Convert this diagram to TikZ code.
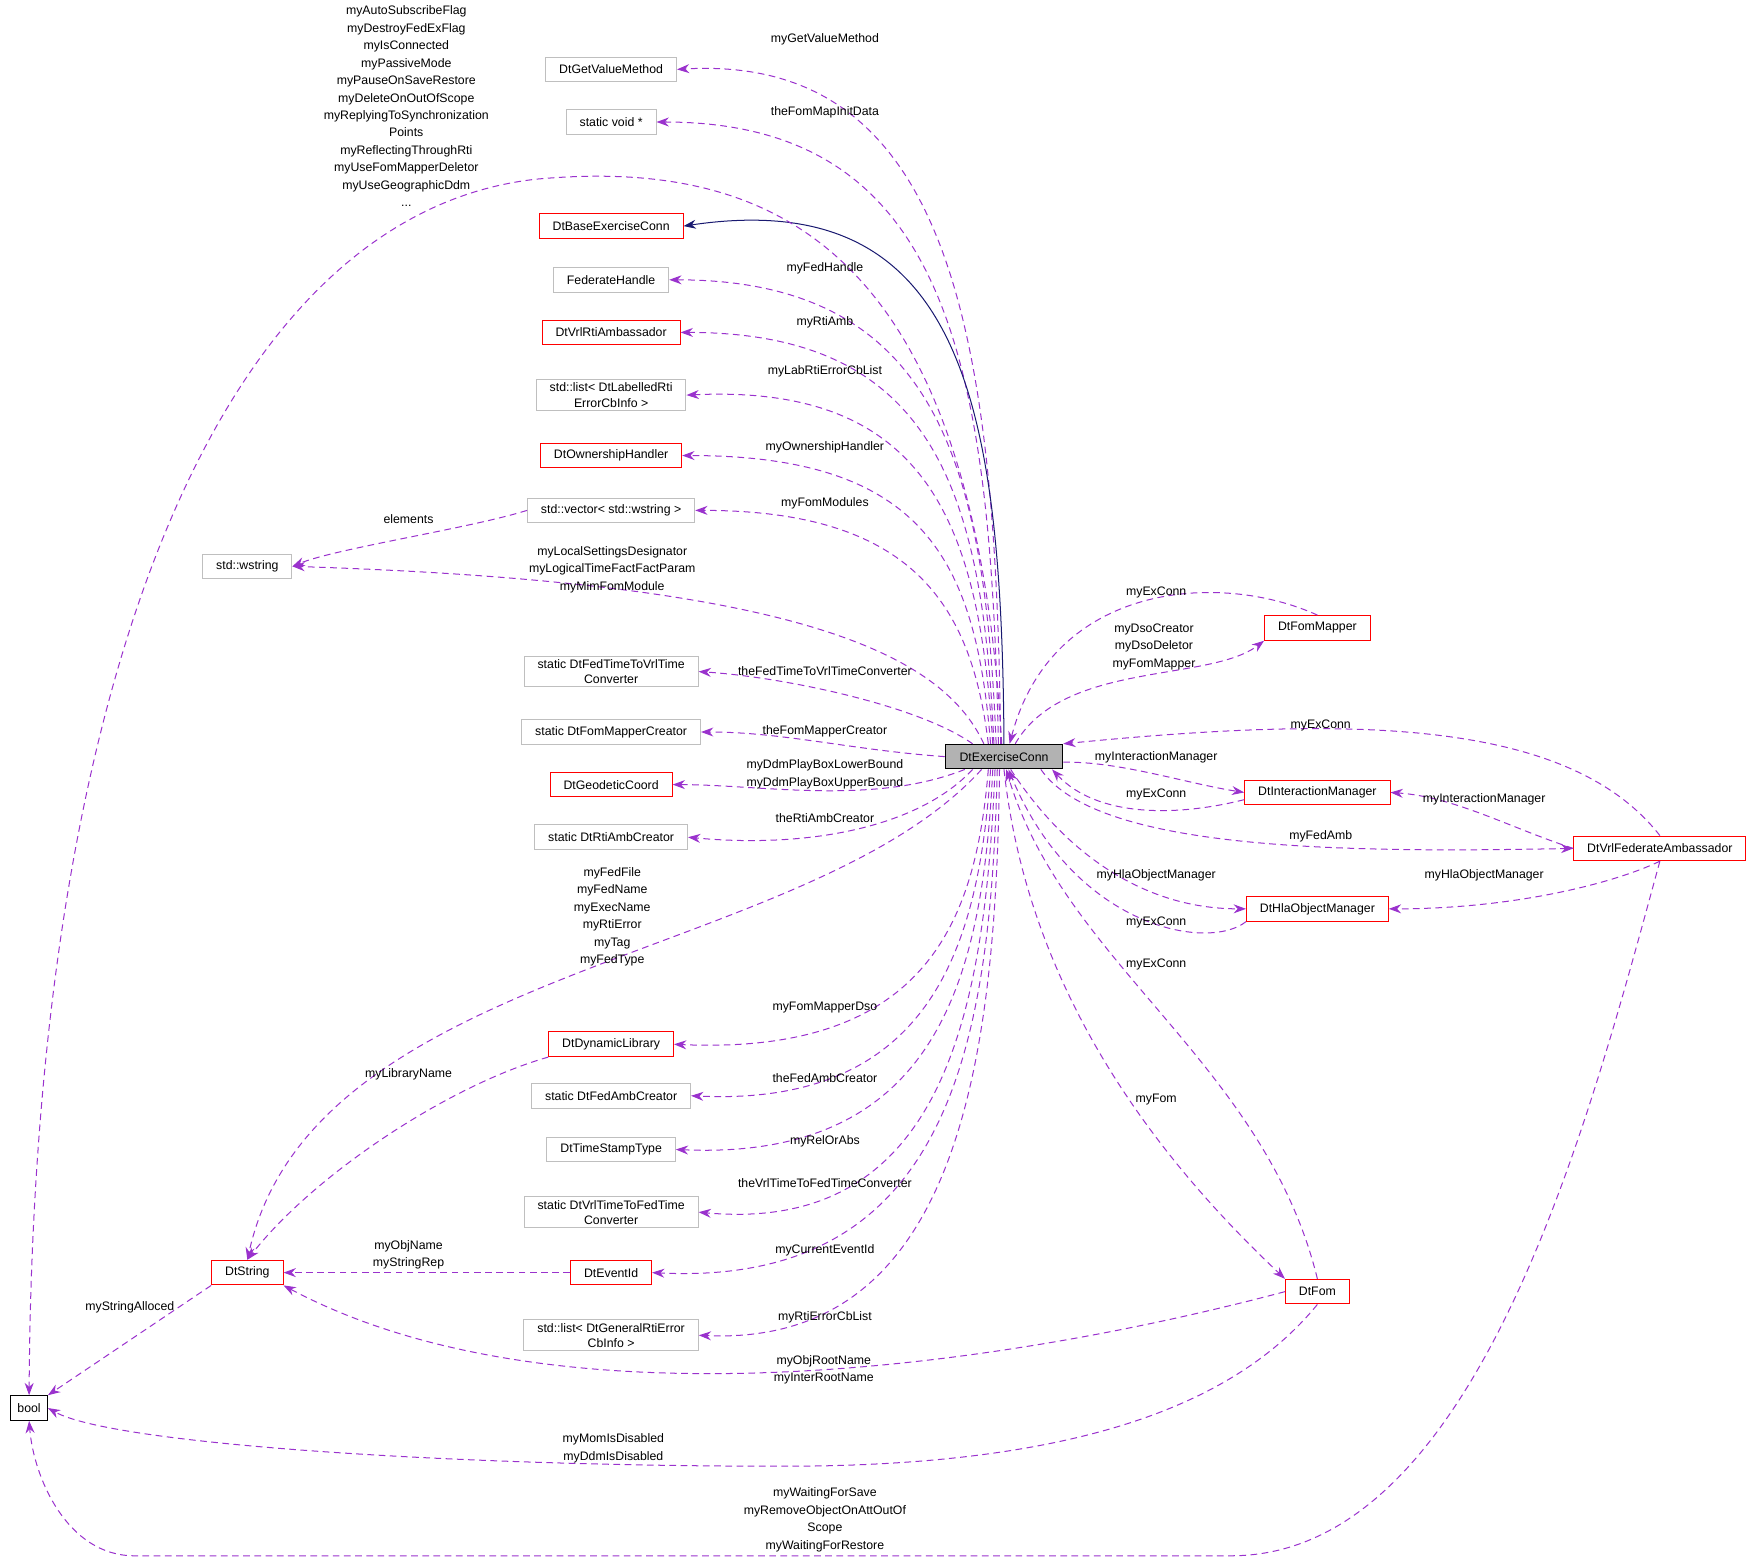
\documentclass[tikz,border=0pt]{standalone}
\usepackage{fontspec}
\setmainfont{Liberation Sans}
\usetikzlibrary{arrows.meta}
\definecolor{dep}{HTML}{9A32CD}
\definecolor{inh}{HTML}{191970}
\definecolor{redbox}{HTML}{FF0000}
\definecolor{graybox}{HTML}{BFBFBF}
\tikzset{
  box/.style={draw, line width=0.9pt, inner xsep=12pt, inner ysep=3pt, minimum height=22pt, align=center, font=\fontsize{11}{13.5}\selectfont},
  red box/.style={box, draw=redbox},
  gray box/.style={box, draw=graybox},
  lbl/.style={align=center, inner sep=0pt, font=\fontsize{11}{15.6}\selectfont},
  uses/.style={draw=dep, line width=0.9pt, dash pattern=on 6pt off 4pt, -{Stealth[length=11pt,width=8pt]}},
  isa/.style={draw=inh, line width=0.9pt, -{Stealth[length=11pt,width=8pt]}}
}
\begin{document}
\begin{tikzpicture}[x=1pt,y=-1pt]
  \useasboundingbox (0,0) rectangle (1568,1396);
  % centre class
  \node[box, fill=gray!60, inner xsep=4pt, minimum width=105pt] (ex) at (897,676) {DtExerciseConn};
  % members on the left
  \node[gray box] (gv) at (546,62) {DtGetValueMethod};
  \node[gray box] (sv) at (546,109) {static void *};
  \node[red box] (base) at (546,202) {DtBaseExerciseConn};
  \node[gray box] (fh) at (546,250) {FederateHandle};
  \node[red box] (rti) at (546,297) {DtVrlRtiAmbassador};
  \node[gray box] (lab) at (546,353) {std::list\textless{} DtLabelledRti\\ErrorCbInfo \textgreater{}};
  \node[red box] (own) at (546,407) {DtOwnershipHandler};
  \node[gray box] (vec) at (546,456) {std::vector\textless{} std::wstring \textgreater{}};
  \node[gray box] (ws) at (221,506) {std::wstring};
  \node[gray box] (f2v) at (546,600) {static DtFedTimeToVrlTime\\Converter};
  \node[gray box] (fmc) at (546,654) {static DtFomMapperCreator};
  \node[red box] (geo) at (546,701) {DtGeodeticCoord};
  \node[gray box] (rac) at (546,748) {static DtRtiAmbCreator};
  \node[red box] (dyn) at (546,933) {DtDynamicLibrary};
  \node[gray box] (fac) at (546,979) {static DtFedAmbCreator};
  \node[gray box] (tst) at (546,1027) {DtTimeStampType};
  \node[gray box] (v2f) at (546,1083) {static DtVrlTimeToFedTime\\Converter};
  \node[red box] (evt) at (546,1137) {DtEventId};
  \node[gray box] (gen) at (546,1193) {std::list\textless{} DtGeneralRtiError\\CbInfo \textgreater{}};
  \node[red box] (str) at (221,1137) {DtString};
  \node[box, inner xsep=6pt] (bool) at (26,1258) {bool};
  % classes on the right
  \node[red box] (fm) at (1177,561) {DtFomMapper};
  \node[red box] (im) at (1177,708) {DtInteractionManager};
  \node[red box] (hla) at (1177,812) {DtHlaObjectManager};
  \node[red box] (fom) at (1177,1154) {DtFom};
  \node[red box] (amb) at (1483,758) {DtVrlFederateAmbassador};

  % edges to the upper members
  \draw[uses] ([xshift=-3pt]ex.north) .. controls (890,300) and (850,48) .. (gv.east);
  \draw[uses] ([xshift=-5pt]ex.north) .. controls (885,330) and (850,109) .. (sv.east);
  \draw[isa] (ex.north) .. controls (895,360) and (860,165) .. (base.east);
  \draw[uses] ([xshift=-7pt]ex.north) .. controls (880,420) and (840,250) .. (fh.east);
  \draw[uses] ([xshift=-9pt]ex.north) .. controls (878,440) and (835,297) .. (rti.east);
  \draw[uses] ([xshift=-10pt]ex.north) .. controls (875,470) and (830,343) .. (lab.east);
  \draw[uses] ([xshift=-12pt]ex.north) .. controls (872,500) and (825,407) .. (own.east);
  \draw[uses] ([xshift=-14pt]ex.north) .. controls (868,540) and (815,456) .. (vec.east);
  \draw[uses] (vec.west) .. controls (420,472) and (300,490) .. (ws.east);
  \draw[uses] ([xshift=-18pt]ex.north) .. controls (840,580) and (700,520) .. (ws.east);
  \draw[uses] ([xshift=-28pt]ex.north) .. controls (820,630) and (700,605) .. (f2v.east);
  \draw[uses] (ex.west) .. controls (760,670) and (700,654) .. (fmc.east);
  \draw[uses] ([xshift=-35pt]ex.south) .. controls (780,720) and (680,701) .. (geo.east);
  \draw[uses] ([xshift=-28pt]ex.south) .. controls (820,740) and (720,758) .. (rac.east);
  \draw[uses] ([xshift=-2pt]ex.north) .. controls (870,230) and (700,140) .. (480,160) .. controls (200,190) and (30,600) .. (bool.north);
  % edges to the lower members
  \draw[uses] ([xshift=-20pt]ex.south) .. controls (720,860) and (280,860) .. (str.north);
  \draw[uses] ([xshift=-14pt]ex.south) .. controls (872,820) and (830,943) .. (dyn.east);
  \draw[uses] ([xshift=-12pt]ex.south) .. controls (875,840) and (835,989) .. (fac.east);
  \draw[uses] ([xshift=-10pt]ex.south) .. controls (878,870) and (840,1037) .. (tst.east);
  \draw[uses] ([xshift=-8pt]ex.south) .. controls (880,900) and (845,1103) .. (v2f.east);
  \draw[uses] ([xshift=-6pt]ex.south) .. controls (885,930) and (850,1150) .. (evt.east);
  \draw[uses] ([xshift=-4pt]ex.south) .. controls (890,950) and (855,1203) .. (gen.east);
  \draw[uses] (dyn.south west) .. controls (400,970) and (280,1050) .. (str.north);
  \draw[uses] (evt.west) -- (str.east);
  \draw[uses] (str.south west) -- (bool.north east);
  \draw[uses] (fom.west) .. controls (900,1220) and (500,1280) .. (str.south east);
  \draw[uses] (fom.south) .. controls (1100,1260) and (950,1310) .. (700,1310) .. controls (400,1310) and (100,1290) .. (bool.east);
  \draw[uses] (amb.south) .. controls (1420,1000) and (1320,1390) .. (1100,1390) -- (120,1390) .. controls (60,1390) and (30,1320) .. (bool.south);
  % edges on the right
  \draw[uses] (fm.north) .. controls (1090,510) and (940,520) .. ([xshift=5pt]ex.north);
  \draw[uses] ([xshift=10pt]ex.north) .. controls (950,590) and (1080,610) .. (fm.south west);
  \draw[uses] (amb.north) .. controls (1400,640) and (1200,640) .. (ex.north east);
  \draw[uses] ([yshift=-5pt]ex.east) .. controls (1000,680) and (1060,700) .. (im.west);
  \draw[uses] ([yshift=5pt]im.south west) .. controls (1050,730) and (980,730) .. ([xshift=-10pt]ex.south east);
  \draw[uses] (amb.west) .. controls (1350,740) and (1300,712) .. (im.east);
  \draw[uses] ([xshift=-20pt]ex.south east) .. controls (980,760) and (1200,762) .. (amb.west);
  \draw[uses] ([xshift=6pt]ex.south) .. controls (950,760) and (1020,812) .. (hla.west);
  \draw[uses] (amb.south) .. controls (1440,790) and (1350,812) .. (hla.east);
  \draw[uses] (hla.south west) .. controls (1080,850) and (960,830) .. ([xshift=4pt]ex.south);
  \draw[uses] (fom.north) .. controls (1130,950) and (950,860) .. ([xshift=2pt]ex.south);
  \draw[uses] ([xshift=0pt]ex.south) .. controls (920,900) and (1050,1050) .. (fom.north west);

  % labels
  \node[lbl, anchor=north] (lbool) at (363,5) {myAutoSubscribeFlag\\myDestroyFedExFlag\\myIsConnected\\myPassiveMode\\myPauseOnSaveRestore\\myDeleteOnOutOfScope\\myReplyingToSynchronization\\Points\\myReflectingThroughRti\\myUseFomMapperDeletor\\myUseGeographicDdm\\...};
  \node[lbl] (l1) at (737,35) {myGetValueMethod};
  \node[lbl] (l2) at (737,100) {theFomMapInitData};
  \node[lbl] (l3) at (737,240) {myFedHandle};
  \node[lbl] (l4) at (737,288) {myRtiAmb};
  \node[lbl] (l5) at (737,332) {myLabRtiErrorCbList};
  \node[lbl] (l6) at (737,400) {myOwnershipHandler};
  \node[lbl] (l7) at (737,450) {myFomModules};
  \node[lbl] (l8) at (365,464) {elements};
  \node[lbl] (l9) at (547,509) {myLocalSettingsDesignator\\myLogicalTimeFactFactParam\\myMimFomModule};
  \node[lbl] (l10) at (737,600) {theFedTimeToVrlTimeConverter};
  \node[lbl] (l11) at (737,653) {theFomMapperCreator};
  \node[lbl] (l12) at (737,692) {myDdmPlayBoxLowerBound\\myDdmPlayBoxUpperBound};
  \node[lbl] (l13) at (737,731) {theRtiAmbCreator};
  \node[lbl] (l14) at (547,819) {myFedFile\\myFedName\\myExecName\\myRtiError\\myTag\\myFedType};
  \node[lbl] (l15) at (737,900) {myFomMapperDso};
  \node[lbl] (l16) at (365,960) {myLibraryName};
  \node[lbl] (l17) at (737,963) {theFedAmbCreator};
  \node[lbl] (l18) at (737,1020) {myRelOrAbs};
  \node[lbl] (l19) at (737,1057) {theVrlTimeToFedTimeConverter};
  \node[lbl] (l20) at (365,1121) {myObjName\\myStringRep};
  \node[lbl] (l21) at (737,1117) {myCurrentEventId};
  \node[lbl] (l22) at (116,1168) {myStringAlloced};
  \node[lbl] (l23) at (737,1177) {myRtiErrorCbList};
  \node[lbl] (l24) at (736,1224) {myObjRootName\\myInterRootName};
  \node[lbl] (l25) at (548,1294) {myMomIsDisabled\\myDdmIsDisabled};
  \node[lbl] (l26) at (737,1358) {myWaitingForSave\\myRemoveObjectOnAttOutOf\\Scope\\myWaitingForRestore};
  \node[lbl] (r1) at (1033,529) {myExConn};
  \node[lbl] (r2) at (1031,578) {myDsoCreator\\myDsoDeletor\\myFomMapper};
  \node[lbl] (r3) at (1180,648) {myExConn};
  \node[lbl] (r4) at (1033,677) {myInteractionManager};
  \node[lbl] (r5) at (1033,710) {myExConn};
  \node[lbl] (r6) at (1326,714) {myInteractionManager};
  \node[lbl] (r7) at (1180,747) {myFedAmb};
  \node[lbl] (r8) at (1033,782) {myHlaObjectManager};
  \node[lbl] (r9) at (1326,782) {myHlaObjectManager};
  \node[lbl] (r10) at (1033,824) {myExConn};
  \node[lbl] (r11) at (1033,862) {myExConn};
  \node[lbl] (r12) at (1033,982) {myFom};
\end{tikzpicture}
\end{document}
